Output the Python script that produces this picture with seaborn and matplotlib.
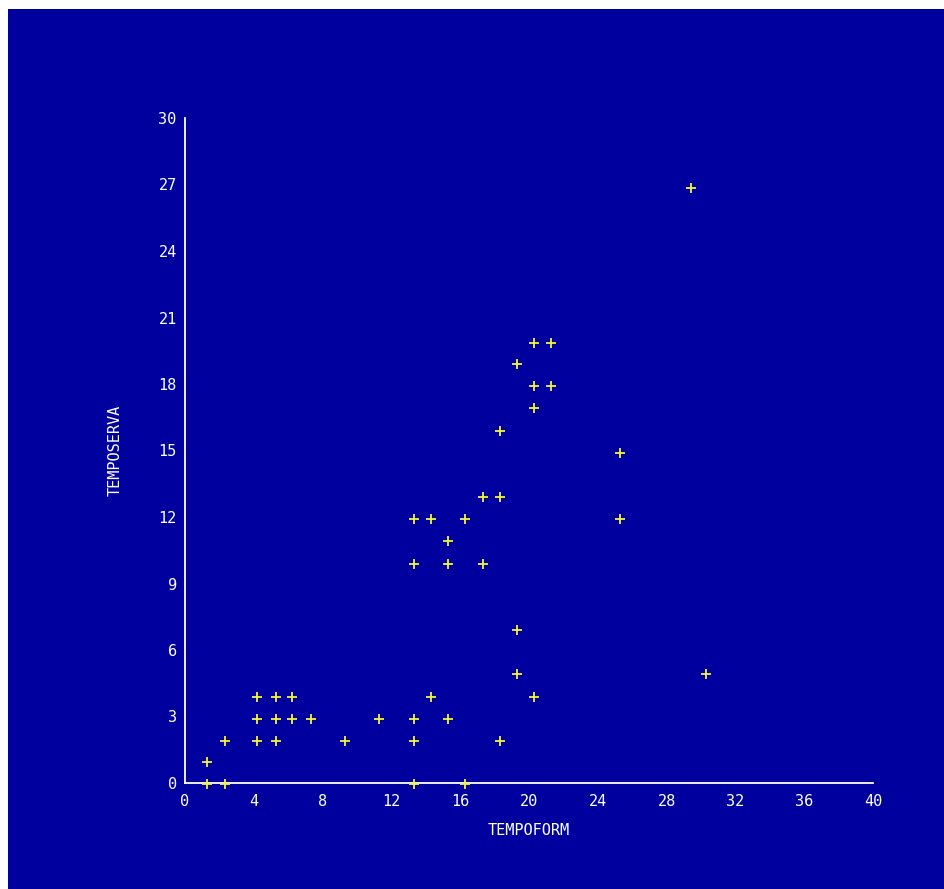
import matplotlib
matplotlib.use("Agg")
import matplotlib.pyplot as plt
import matplotlib.patches as mpatches
import seaborn as sns
import pandas as pd

tempoform = [1.3, 1.3, 2.3, 2.3, 4.2, 4.2, 4.2, 5.3, 5.3, 5.3, 6.2, 6.2, 7.3, 9.3,
             11.3, 13.3, 13.3, 13.3, 13.3, 13.3, 14.3, 14.3, 15.3, 15.3, 15.3,
             16.3, 16.3, 17.3, 17.3, 18.3, 18.3, 18.3, 19.3, 19.3, 19.3,
             20.3, 20.3, 20.3, 20.3, 21.3, 21.3, 25.3, 25.3, 29.4, 30.3]
temposerva = [-0.05, 0.95, 1.9, -0.05, 3.9, 2.9, 1.9, 3.9, 2.9, 1.9, 3.9, 2.9, 2.9, 1.9,
              2.9, 2.9, 1.9, -0.05, 11.9, 9.9, 11.9, 3.9, 10.9, 9.9, 2.9,
              11.9, -0.05, 12.9, 9.9, 12.9, 15.9, 1.9, 18.9, 6.9, 4.9,
              19.85, 17.9, 16.9, 3.9, 19.85, 17.9, 14.9, 11.9, 26.85, 4.9]

x_ticks = [0, 4, 8, 12, 16, 20, 24, 28, 32, 36, 40]
y_ticks = [0, 3, 6, 9, 12, 15, 18, 21, 24, 27, 30]

df = pd.DataFrame({"TEMPOFORM": tempoform, "TEMPOSERVA": temposerva})

BG = "#00009E"
FG = "#FFFFFF"
PT = "#F5F53A"

sns.set_style("white")
plt.rcParams["font.family"] = ["DejaVu Sans Mono", "DejaVu Sans"]

fig = plt.figure(figsize=(9.45, 8.89), dpi=100)
fig.patch.set_facecolor("white")
bg = mpatches.Rectangle((8 / 945, 0), 1 - 8 / 945, 1 - 9 / 889,
                        transform=fig.transFigure, facecolor=BG,
                        edgecolor="none", zorder=-10)
fig.add_artist(bg)

ax = fig.add_axes([185 / 945, 1 - 783 / 889, (873 - 185) / 945, (783 - 118) / 889])
ax.set_zorder(5)
ax.set_facecolor(BG)
ax.patch.set_alpha(0)

sns.scatterplot(data=df, x="TEMPOFORM", y="TEMPOSERVA", marker="+", s=60,
                color=PT, linewidth=1.3, ax=ax, clip_on=False, zorder=3)

ax.set_xlim(0, 40)
ax.set_ylim(0, 30)
ax.set_xticks(x_ticks)
ax.set_yticks(y_ticks)
ax.set_xticklabels([str(v) for v in x_ticks])
ax.set_yticklabels([str(v) for v in y_ticks])

for s in ["top", "right"]:
    ax.spines[s].set_visible(False)
for s in ["left", "bottom"]:
    ax.spines[s].set_color(FG)
    ax.spines[s].set_linewidth(1.3)

ax.tick_params(axis="both", colors=FG, labelcolor=FG, length=3, width=1,
               labelsize=11, direction="out")
ax.tick_params(axis="x", pad=5)
ax.tick_params(axis="y", pad=3)

ax.set_xlabel("TEMPOFORM", color=FG, fontsize=11, labelpad=10)
ax.set_ylabel("TEMPOSERVA", color=FG, fontsize=11, labelpad=26)

fig.savefig("out.png", dpi=100, facecolor=fig.get_facecolor())
